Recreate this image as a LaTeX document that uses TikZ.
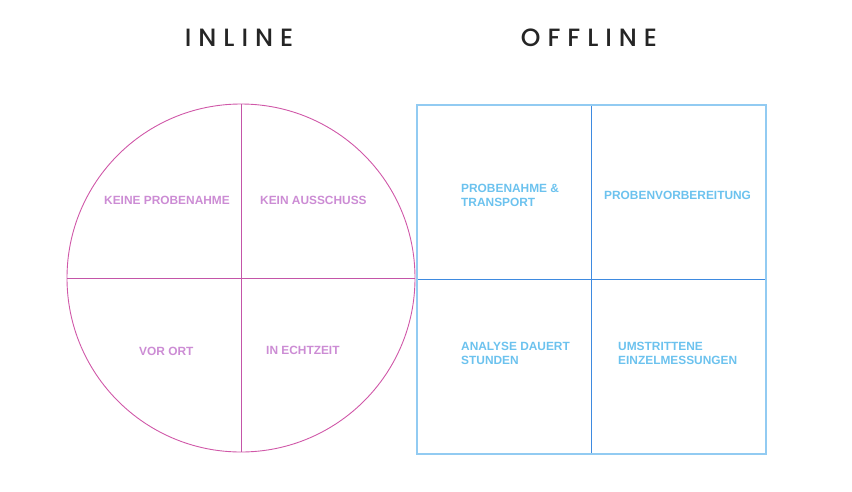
\documentclass[tikz,border=0pt]{standalone}
\usepackage{fontspec}
\setmainfont{Liberation Sans}
\newfontfamily\titlefont[LetterSpace=28]{Poppins Medium}
\definecolor{inlinecol}{HTML}{D058A8}
\definecolor{inlinediv}{HTML}{C455A8}
\definecolor{inlinetxt}{HTML}{CC8CD4}
\definecolor{offborder}{HTML}{92CBF2}
\definecolor{offdiv}{HTML}{3E8AE0}
\definecolor{offtxt}{HTML}{6CC2EE}
\definecolor{titlecol}{HTML}{252525}
\tikzset{
  heading/.style={font=\titlefont\fontsize{25}{30}\selectfont, text=titlecol, inner sep=0pt},
  inlab/.style={font=\bfseries\fontsize{11.9}{14}\selectfont, text=inlinetxt, inner sep=0pt, anchor=base west},
  offlab/.style={font=\bfseries\fontsize{11.9}{14}\selectfont, text=offtxt, inner sep=0pt, anchor=base west, align=left},
}
\begin{document}
\begin{tikzpicture}[x=1pt,y=-1pt]
\useasboundingbox (0,0) rectangle (852,491);
% headings
\node[heading] (hin) at (239,38) {INLINE};
\node[heading] (hoff) at (589,38) {OFFLINE};
% inline circle with quadrants
\coordinate (c) at (241,278);
\draw[inlinecol, line width=0.9pt] (c) circle[radius=174];
\coordinate (ct) at (241.5,104);
\coordinate (cb) at (241.5,452);
\coordinate (cl) at (67,278.5);
\coordinate (cr) at (415,278.5);
\draw[inlinediv, line width=1.1pt] (ct) -- (cb);
\draw[inlinediv, line width=1.1pt] (cl) -- (cr);
\node[inlab] (i1) at (104,204) {KEINE PROBENAHME};
\node[inlab] (i2) at (260,204) {KEIN AUSSCHUSS};
\node[inlab] (i3) at (139,355) {VOR ORT};
\node[inlab] (i4) at (266,354) {IN ECHTZEIT};
% offline square with quadrants
\coordinate (o1) at (417,105);
\coordinate (o2) at (766,454);
\coordinate (ot) at (591.5,105);
\coordinate (ob) at (591.5,454);
\coordinate (ol) at (417,279.5);
\coordinate (or) at (766,279.5);
\draw[offdiv, line width=1.1pt] (ot) -- (ob);
\draw[offdiv, line width=1.1pt] (ol) -- (or);
\draw[offborder, line width=1.4pt] (o1) rectangle (o2);
% two-line labels are placed by the baseline of their last line
\node[offlab] (f1) at (461,206) {PROBENAHME \&\\TRANSPORT};
\node[offlab] (f2) at (604,199) {PROBENVORBEREITUNG};
\node[offlab] (f3) at (461,364) {ANALYSE DAUERT\\STUNDEN};
\node[offlab] (f4) at (618,364) {UMSTRITTENE\\EINZELMESSUNGEN};
\end{tikzpicture}
\end{document}
